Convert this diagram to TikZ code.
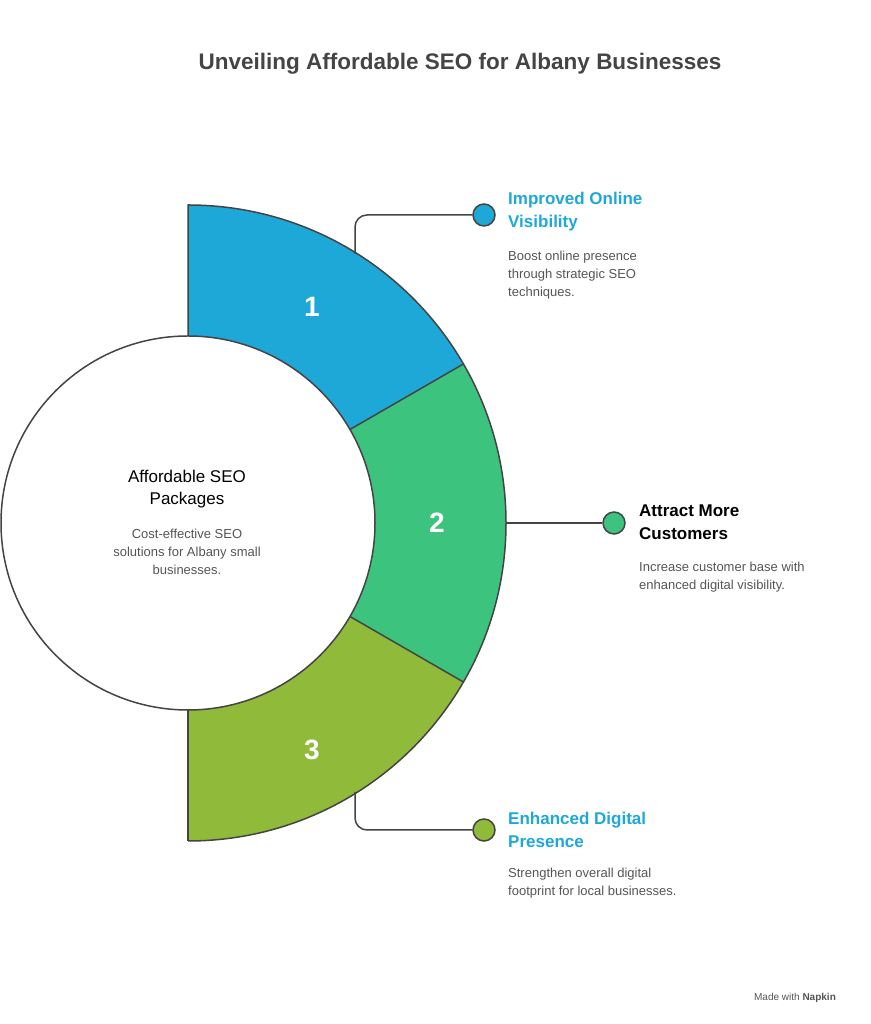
\documentclass[tikz,border=0pt]{standalone}
\usepackage{fontspec}
\setmainfont{Liberation Sans}
\definecolor{cblue}{HTML}{1EA8D8}
\definecolor{cgreen}{HTML}{3CC47F}
\definecolor{colive}{HTML}{8FBA3A}
\definecolor{ink}{HTML}{444444}
\definecolor{txt}{HTML}{555555}
\begin{document}
\begin{tikzpicture}[x=1pt,y=1pt,
  seg/.style={draw=ink,line width=1.5pt,line join=round},
  conn/.style={draw=ink,line width=1.5pt,rounded corners=12pt},
  dot/.style={circle,draw=ink,line width=1.5pt,minimum size=22pt,inner sep=0pt},
  num/.style={text=white,font=\fontsize{28}{32}\selectfont\bfseries},
  head/.style={anchor=north west,align=left,inner sep=0pt,font=\fontsize{17}{22.5}\selectfont\bfseries},
  desc/.style={anchor=north west,align=left,inner sep=0pt,text=txt,font=\fontsize{13}{18}\selectfont}]
\useasboundingbox (0,0) rectangle (870,1024);
\coordinate (c) at (188,501);
\node[text=ink,font=\fontsize{22.5}{26}\selectfont\bfseries] (title) at (460,960) {Unveiling Affordable SEO for Albany Businesses};
\fill[cblue] ([shift={(30:318)}]c) arc[start angle=30,end angle=90,radius=318] -- ([shift={(90:187)}]c) arc[start angle=90,end angle=30,radius=187] -- cycle;
\fill[cgreen] ([shift={(-30:318)}]c) arc[start angle=-30,end angle=30,radius=318] -- ([shift={(30:187)}]c) arc[start angle=30,end angle=-30,radius=187] -- cycle;
\fill[colive] ([shift={(-90:318)}]c) arc[start angle=-90,end angle=-30,radius=318] -- ([shift={(-30:187)}]c) arc[start angle=-30,end angle=-90,radius=187] -- cycle;
\draw[seg] ([shift={(-90:318)}]c) arc[start angle=-90,end angle=90,radius=318] -- ([shift={(90:187)}]c);
\draw[seg] ([shift={(-90:318)}]c) -- ([shift={(-90:187)}]c);
\draw[seg] ([shift={(30:318)}]c) -- ([shift={(30:187)}]c);
\draw[seg] ([shift={(-30:318)}]c) -- ([shift={(-30:187)}]c);
\draw[seg,fill=white] (c) circle[radius=187];
\node[num] (n1) at (312,717) {1};
\node[num] (n2) at (437,501) {2};
\node[num] (n3) at (312,274) {3};
\node[align=center,font=\fontsize{17}{22}\selectfont] (ct) at (187,535) {Affordable SEO\\Packages};
\node[align=center,text=txt,font=\fontsize{13}{18}\selectfont] (cd) at (187,472) {Cost-effective SEO\\solutions for Albany small\\businesses.};
\node[dot,fill=cblue] (d1) at (484,809) {};
\node[dot,fill=cgreen] (d2) at (614,501) {};
\node[dot,fill=colive] (d3) at (484,194) {};
\coordinate (s1) at (355,770);
\coordinate (s2) at (506,501);
\coordinate (s3) at (355,232);
\draw[conn] (s1) |- (d1.west);
\draw[conn] (s2) -- (d2.west);
\draw[conn] (s3) |- (d3.west);
\node[head,text=cblue] (h1) at (508,832) {Improved Online\\Visibility};
\node[desc] (t1) at (508,773) {Boost online presence\\through strategic SEO\\techniques.};
\node[head,text=black] (h2) at (639,519) {Attract More\\Customers};
\node[desc] (t2) at (639,462) {Increase customer base with\\enhanced digital visibility.};
\node[head,text=cblue] (h3) at (508,212) {Enhanced Digital\\Presence};
\node[desc] (t3) at (508,156) {Strengthen overall digital\\footprint for local businesses.};
\node[text=txt,font=\fontsize{10}{12}\selectfont] (mk) at (795,26) {Made with \textbf{Napkin}};
\end{tikzpicture}
\end{document}
